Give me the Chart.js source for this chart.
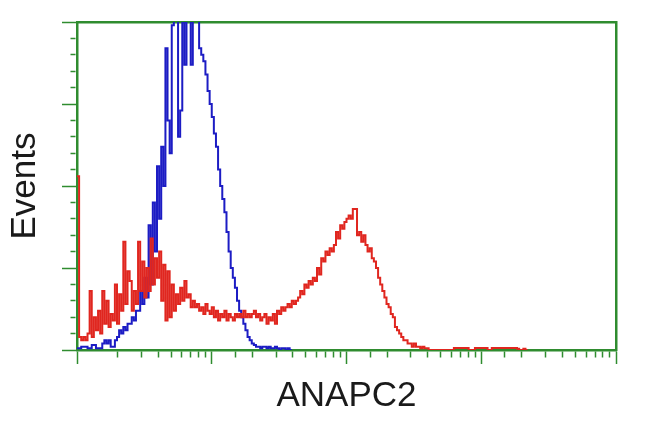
<!DOCTYPE html>
<html lang="en">
<head>
<meta charset="UTF-8">
<title>ANAPC2 flow histogram</title>
<script src="https://cdn.jsdelivr.net/npm/chart.js"></script>
<style>
  body { margin: 0; background: #fff; }
</style>
</head>
<body>
<canvas id="histChart" width="650" height="432"></canvas>
<script>
// axis titles
const xTitle = 'ANAPC2';
const yTitle = 'Events';

// log x range (4 decades) and channel count of the histogram
const xMin = 1;
const xMax = 10000;
const channelCount = 256;
const yMax = 100;

// counts per channel (channel 0 = left edge), % of full scale
const redCounts = [
  53, 53, 4, 3, 4, 3, 5, 18, 4, 10,
  6, 12, 5, 18, 8, 15, 7, 11, 9, 20,
  8, 17, 12, 33, 14, 24, 21, 12, 18, 14,
  33, 18, 27, 16, 25, 18, 34, 20, 28, 22,
  30, 15, 26, 9, 24, 10, 20, 12, 17, 14,
  19, 15, 21, 16, 17, 13, 15, 13, 14, 12,
  13, 11, 14, 12, 11, 13, 10, 12, 9, 11,
  10, 12, 9, 11, 10, 9, 11, 10, 11, 10,
  12, 10, 11, 10, 11, 12, 10, 11, 9, 10,
  11, 8, 10, 9, 11, 8, 12, 11, 13, 12,
  13, 14, 13, 15, 14, 15, 16, 18, 17, 20,
  19, 21, 20, 22, 21, 25, 23, 28, 27, 30,
  29, 31, 30, 32, 36, 34, 38, 37, 39, 40,
  41, 40, 43, 43, 35, 36, 33, 35, 32, 30,
  31, 28, 27, 25, 22, 20, 18, 16, 14, 13,
  11, 10, 7, 6, 5, 4, 3, 3, 2, 2,
  1, 2, 1, 1, 0.5, 1, 0.5, 0.5, 0, 0,
  0, 0, 0, 0, 0, 0, 0, 0, 0, 0,
  0.6, 0.6, 0.6, 0.6, 0.6, 0.6, 0.6, 0, 0, 0,
  0.6, 0.6, 0.6, 0.6, 0.6, 0.6, 0, 0, 0.6, 0.6,
  0.6, 0.6, 0.6, 0.6, 0.6, 0.6, 0.6, 0.6, 0.6, 0.6,
  0.4, 0, 0, 0.4, 0
];

const blueCounts = [
  0.5, 0.5, 0.5, 1, 1, 1, 0.5, 0.5, 1.5, 1.5,
  0.5, 0.5, 0.5, 2, 3, 2, 3, 1, 1, 3,
  4, 6, 5, 7, 6, 8, 8, 10, 9, 12,
  12, 18, 14, 22, 16, 38, 20, 45, 30, 56,
  40, 62, 50, 92, 70, 60, 99, 102, 104, 65,
  73, 104, 87, 104, 104, 87, 104, 104, 104, 92,
  90, 88, 84, 79, 75, 71, 66, 62, 55, 50,
  46, 42, 36, 30, 25, 22, 19, 15, 12, 10,
  8, 6, 4, 3, 2, 1.5, 1, 1, 0.5, 1,
  1, 0.5, 1, 0.5, 0.5, 1, 0.5, 0, 0.5, 0.5,
  0, 0.5, 0
];

const frameGreen = '#2f8c2f';
const titleFont = { family: "'Liberation Sans', Arial, sans-serif", size: 35 };

const isDecade = v => Math.abs(Math.log10(v) - Math.round(Math.log10(v))) < 1e-6;
const toPoints = arr => arr.map((v, i) => ({ x: i, y: v }));

new Chart(document.getElementById('histChart'), {
    type: 'line',
    data: {
        datasets: [
            {
                data: toPoints(redCounts),
                borderColor: '#e0261f',
                borderWidth: 2,
                stepped: 'after',
                pointRadius: 0,
                xAxisID: 'xc',
                yAxisID: 'y'
            },
            {
                data: toPoints(blueCounts),
                borderColor: '#1c1cc4',
                borderWidth: 2,
                stepped: 'after',
                pointRadius: 0,
                xAxisID: 'xc',
                yAxisID: 'y'
            }
        ]
    },
    options: {
        responsive: false,
        animation: false,
        layout: { padding: 0 },
        plugins: { legend: { display: false }, tooltip: { enabled: false } },
        scales: {
            xc: { type: 'linear', min: 0, max: channelCount, display: false },
            x: {
                type: 'logarithmic',
                position: 'bottom',
                min: xMin,
                max: xMax,
                z: 1,
                ticks: { display: false },
                grid: {
                    drawOnChartArea: false,
                    tickLength: 14,
                    tickColor: frameGreen,
                    tickWidth: 1.5,
                    tickBorderDash: ctx => isDecade(ctx.tick.value) ? [] : [6, 100]
                },
                border: { color: frameGreen, width: 2.5 },
                title: { display: true, text: xTitle, color: '#1a1a1a', font: titleFont, padding: { top: 0, bottom: 15 } },
                afterFit: s => { s.height = 82; }
            },
            y: {
                type: 'linear',
                position: 'left',
                min: 0,
                max: yMax,
                z: 1,
                ticks: { display: false, stepSize: 5 },
                grid: {
                    drawOnChartArea: false,
                    tickLength: 15,
                    tickColor: frameGreen,
                    tickWidth: 1.5,
                    tickBorderDash: ctx => ctx.tick.value % 25 === 0 ? [] : [0, 8.5, 5, 100]
                },
                border: { color: frameGreen, width: 2.5 },
                title: { display: true, text: yTitle, color: '#1a1a1a', font: titleFont, padding: { top: 4, bottom: 0 } },
                afterFit: s => { s.width = 77; }
            },
            x2: {
                type: 'linear',
                position: 'top',
                z: 1,
                ticks: { display: false },
                grid: { drawOnChartArea: false, drawTicks: false },
                border: { color: frameGreen, width: 2.5 },
                afterFit: s => { s.height = 22; }
            },
            y2: {
                type: 'linear',
                position: 'right',
                z: 1,
                ticks: { display: false },
                grid: { drawOnChartArea: false, drawTicks: false },
                border: { color: frameGreen, width: 2.5 },
                afterFit: s => { s.width = 34; }
            }
        }
    }
});
</script>
</body>
</html>
